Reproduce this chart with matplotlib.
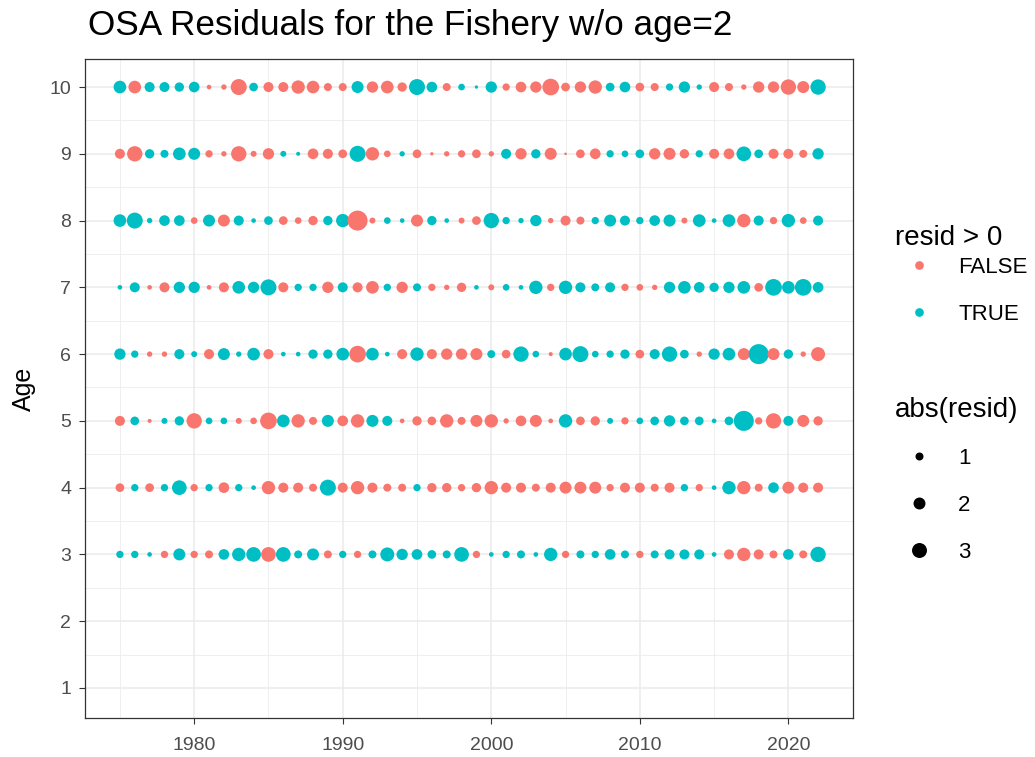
import numpy as np
import matplotlib
matplotlib.use("Agg")
import matplotlib.pyplot as plt
from matplotlib.lines import Line2D
from matplotlib.ticker import MultipleLocator

plt.rcParams['font.family'] = ['Liberation Sans', 'DejaVu Sans']

years = list(range(1975, 2023))
ages = [3, 4, 5, 6, 7, 8, 9, 10]

resid_age10 = [2.22, -2.22, 1.47, 1.47, 1.30, 1.64, -0.42, -0.52, -3.39, 1.15,
               -1.47, -1.47, -2.44, -2.22, -1.00, -1.00, 2.02, -1.82, -2.22, -1.30,
               3.39, 1.64, -1.00, 0.74, 0.26, 1.82, -0.86, -1.64, -1.82, -3.66,
               -1.15, -1.82, -2.44, 1.15, 1.64, -1.15, -1.00, 0.86, 1.82, 0.52,
               -1.47, -1.00, -0.52, -1.82, -1.82, -3.14, -2.02, 3.14]
resid_age9 = [-1.47, -3.14, 1.30, 1.00, 2.22, 2.02, -0.86, -0.52, -3.14, -0.62,
              -1.82, 0.62, 0.34, -1.64, -1.47, -1.15, 3.39, -2.44, -0.74, 0.52,
              -1.15, -0.26, -0.52, -0.86, -1.15, -0.52, 1.47, -1.82, 1.30, -2.02,
              -0.19, -1.15, -1.64, 0.86, 0.74, 1.15, -1.82, -2.02, -1.30, 0.86,
              -1.47, -1.64, 2.90, 1.15, -1.47, -1.47, -1.00, 1.82]
resid_age8 = [2.22, 3.39, 0.52, 1.64, 1.64, -0.74, 2.02, -2.02, 1.47, 0.42,
              1.15, -1.15, -0.74, -1.30, 1.30, 2.44, -5.12, -0.62, 0.74, 0.42,
              -2.02, 1.30, 0.42, -0.62, -1.15, 3.14, 0.86, 0.52, 1.82, -0.52,
              -1.47, -1.00, 0.86, 2.02, 1.47, 0.86, 1.64, 2.02, -0.62, 2.22,
              0.42, 2.22, -2.44, 1.47, -0.86, 2.44, -0.74, 1.47]
resid_age7 = [0.42, 1.47, -0.42, -1.47, 1.82, 1.82, -0.42, -1.47, 2.22, 1.82,
              3.39, -1.47, 0.86, 0.86, -1.82, 1.47, -1.47, -2.22, 0.86, -1.82,
              1.00, -0.86, -0.52, -1.30, 0.42, -0.62, 0.74, 0.42, 2.44, -0.86,
              2.44, 1.47, 1.00, 1.47, -0.86, -0.74, -0.52, 1.82, 2.22, 1.64,
              1.30, 1.82, 2.22, -1.15, 3.66, 2.22, 3.66, 1.64]
resid_age6 = [1.82, 0.86, -0.52, -0.52, 1.47, 0.62, -1.47, 2.02, 0.52, 2.22,
              -1.47, 0.42, 0.42, 1.30, 1.30, 2.22, -3.66, 2.22, 0.42, -1.47,
              2.44, -1.47, -1.82, -1.82, -2.02, 1.00, -1.15, 3.14, 0.74, -0.34,
              2.22, 3.39, 0.74, 0.86, 1.30, -1.15, 1.47, 3.14, 1.15, -0.52,
              1.82, 2.22, -2.02, 5.12, -2.02, 1.30, -0.52, -2.66]
resid_age5 = [-1.47, 1.15, -0.34, 0.62, 1.30, -3.14, 0.74, 0.74, -0.62, -0.74,
              -3.66, 2.22, -2.44, -1.00, 2.02, -1.64, -2.44, 2.02, 1.47, -0.42,
              -1.30, -1.15, -2.44, -1.00, -2.02, -2.44, -0.52, -1.64, -2.02, -0.42,
              2.44, -1.15, -1.30, 0.62, -0.86, 0.74, 1.15, 1.82, 1.15, 1.15,
              0.42, 1.15, 5.12, -0.86, -3.14, 1.47, -2.02, -1.30]
resid_age4 = [-1.15, 0.86, -1.15, 0.86, 2.90, -0.86, 0.86, -1.64, 0.86, 0.42,
              -2.44, -1.47, -1.47, -1.00, 3.39, -1.47, -2.44, -1.47, -1.00, -1.00,
              0.86, -1.30, -1.30, -0.86, -1.30, -2.44, -1.47, -1.47, -1.00, -1.47,
              -2.02, -2.02, -2.02, -0.86, -1.47, -1.47, -1.00, -1.47, 0.86, -0.86,
              0.42, 2.44, -2.44, -1.00, 1.64, -2.02, -1.47, -1.47]
resid_age3 = [0.86, 0.86, 0.42, -0.86, 2.02, -0.86, -1.00, 1.64, 2.44, 2.90,
              -2.90, 2.90, 1.00, 2.02, -1.00, 0.86, -0.86, 1.00, 2.66, 1.82,
              1.64, 1.15, 1.00, 2.90, -0.86, 0.42, 0.86, 1.00, 0.42, 2.44,
              -0.86, 1.00, 0.86, 1.64, 1.00, -0.86, 1.00, 1.47, 1.47, 1.47,
              0.42, -1.47, -2.44, -1.47, -1.00, 1.64, -1.00, 3.14]

resid_by_age = {3: resid_age3, 4: resid_age4, 5: resid_age5, 6: resid_age6,
                7: resid_age7, 8: resid_age8, 9: resid_age9, 10: resid_age10}

y_ticks = list(range(1, 11))
x_ticks = [1980, 1990, 2000, 2010, 2020]
sign_labels = ['FALSE', 'TRUE']
size_breaks = [1, 2, 3]

COL_FALSE = '#F8766D'
COL_TRUE = '#00BFC4'
DPI = 100


def diam_pt(v):
    px = np.clip(-1.5 + 9.5 * np.sqrt(np.abs(np.asarray(v, float))), 2.5, None)
    return px * 72.0 / DPI


fig = plt.figure(figsize=(10.35, 7.57), dpi=DPI)
ax = fig.add_axes([85 / 1035, 1 - 718 / 757, (853 - 85) / 1035, (718 - 59) / 757])

xs, ys, vals = [], [], []
for age in ages:
    for yr, r in zip(years, resid_by_age[age]):
        xs.append(yr)
        ys.append(age)
        vals.append(r)
vals = np.array(vals)
colors = np.where(vals > 0, COL_TRUE, COL_FALSE)
ax.scatter(xs, ys, s=diam_pt(vals) ** 2, c=colors, linewidths=0, zorder=3)

ax.set_xlim(1972.65, 2024.35)
ax.set_ylim(0.55, 10.42)
ax.set_xticks(x_ticks)
ax.set_yticks(y_ticks)
ax.xaxis.set_minor_locator(MultipleLocator(5))
ax.yaxis.set_minor_locator(MultipleLocator(0.5))
ax.grid(which='major', color='#EBEBEB', linewidth=1.1, zorder=0)
ax.grid(which='minor', color='#EBEBEB', linewidth=0.55, zorder=0)
ax.set_axisbelow(True)
ax.tick_params(which='minor', length=0)
ax.tick_params(axis='x', which='major', pad=10)
ax.tick_params(axis='y', which='major', pad=6)
ax.tick_params(which='major', length=4, width=0.8, color='#333333',
               labelsize=14, labelcolor='#4D4D4D')
for sp in ax.spines.values():
    sp.set_color('#333333')
    sp.set_linewidth(0.9)

ax.set_ylabel('Age', fontsize=18, labelpad=10)
fig.text(88 / 1035, 1 - 26 / 757, 'OSA Residuals for the Fishery w/o age=2',
         fontsize=25.3, ha='left', va='center')

# legends
h1 = [Line2D([], [], marker='o', ls='', markeredgewidth=0, color=c,
             markersize=diam_pt(1.15), label=l)
      for c, l in zip([COL_FALSE, COL_TRUE], sign_labels)]
leg1 = ax.legend(handles=h1, loc='upper left', bbox_to_anchor=(893 / 1035, 1 - 257 / 757),
                 bbox_transform=fig.transFigure, frameon=False, fontsize=16,
                 handlelength=2.35, handletextpad=0.58, borderpad=0, borderaxespad=0,
                 labelspacing=1.16)
ax.add_artist(leg1)
h2 = [Line2D([], [], marker='o', ls='', markeredgewidth=0, color='black',
             markersize=diam_pt(b), label=str(b)) for b in size_breaks]
leg2 = ax.legend(handles=h2, loc='upper left', bbox_to_anchor=(893 / 1035, 1 - 448 / 757),
                 bbox_transform=fig.transFigure, frameon=False, fontsize=16,
                 handlelength=2.35, handletextpad=0.58, borderpad=0, borderaxespad=0,
                 labelspacing=1.16)
fig.text(895 / 1035, 1 - 238 / 757, 'resid > 0', fontsize=20, ha='left', va='center')
fig.text(895 / 1035, 1 - 410 / 757, 'abs(resid)', fontsize=20, ha='left', va='center')

fig.savefig('out.png', dpi=DPI)
